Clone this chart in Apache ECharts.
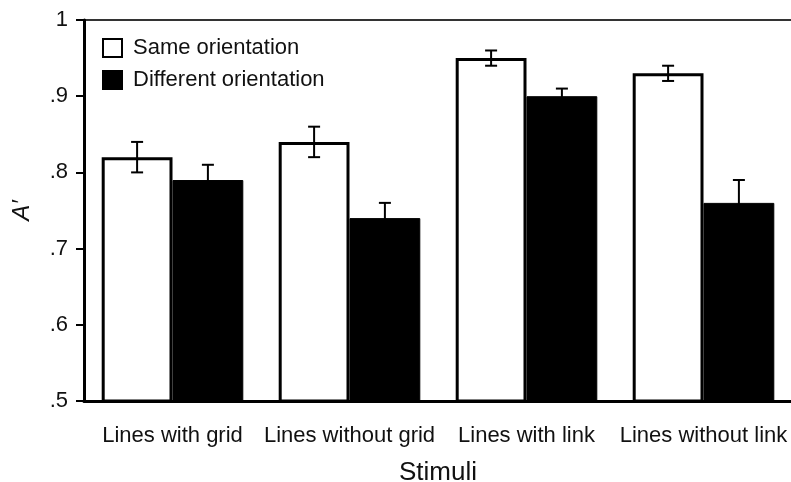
<!DOCTYPE html>
<html>
<head>
<meta charset="utf-8">
<script src="https://cdn.jsdelivr.net/npm/echarts@6/dist/echarts.min.js"></script>
<style>
  html, body { margin: 0; padding: 0; background: #fff; }
  #main { width: 791px; height: 482px; }
</style>
</head>
<body>
<div id="main"></div>
<script>
// stimuli categories and A' values
var categories = ["Lines with grid", "Lines without grid", "Lines with link", "Lines without link"];
var sameValues = [0.82, 0.84, 0.95, 0.93];
var sameErr = [0.02, 0.02, 0.01, 0.01];
var diffValues = [0.79, 0.74, 0.90, 0.76];
var diffErr = [0.02, 0.02, 0.01, 0.03];
var yTicks = [0.5, 0.6, 0.7, 0.8, 0.9, 1];

var FONT = "Liberation Sans, Arial, sans-serif";

var chart = echarts.init(document.getElementById("main"));

// error bar drawn on top of each bar, side: -1 left bar, +1 right bar
function errorBar(side) {
  return function (params, api) {
    var idx = api.value(0);
    var lo = api.coord([idx, api.value(1)]);
    var hi = api.coord([idx, api.value(2)]);
    var band = api.size([1, 0])[0];
    var x = lo[0] + side * band * 0.2;
    var cap = 6;
    var style = { stroke: "#000", lineWidth: 2 };
    return {
      type: "group",
      children: [
        { type: "line", shape: { x1: x, y1: lo[1], x2: x, y2: hi[1] }, style: style },
        { type: "line", shape: { x1: x - cap, y1: lo[1], x2: x + cap, y2: lo[1] }, style: style },
        { type: "line", shape: { x1: x - cap, y1: hi[1], x2: x + cap, y2: hi[1] }, style: style }
      ]
    };
  };
}

var sameErrData = sameValues.map(function (v, i) { return [i, v - sameErr[i], v + sameErr[i]]; });
var diffErrData = diffValues.map(function (v, i) { return [i, v - diffErr[i], v + diffErr[i]]; });

var option = {
  animation: false,
  textStyle: { fontFamily: FONT },
  grid: {
    // plot runs past the right edge, like the original figure
    left: 84, top: 20, width: 708, height: 381,
    outerBoundsMode: "none",
    containLabel: false,
    show: true, borderColor: "#333", borderWidth: 2, backgroundColor: "transparent"
  },
  legend: {
    orient: "vertical",
    left: 102, top: 37,
    padding: 0,
    itemWidth: 19, itemHeight: 18, itemGap: 10,
    icon: "rect",
    textStyle: { fontSize: 22, color: "#111", fontFamily: FONT, padding: [0, 0, 0, 6] },
    data: ["Same orientation", "Different orientation"]
  },
  xAxis: {
    type: "category",
    data: categories,
    name: "Stimuli",
    nameLocation: "middle",
    nameGap: 59,
    nameTextStyle: { fontSize: 26, color: "#111" },
    axisLine: { lineStyle: { color: "#000", width: 3 } },
    axisTick: { alignWithLabel: true, length: 8, lineStyle: { color: "#000", width: 2 } },
    axisLabel: { fontSize: 22, color: "#111", margin: 24, interval: 0 }
  },
  yAxis: {
    type: "value",
    min: 0.5, max: 1, interval: 0.1,
    name: "A\u2032",
    nameLocation: "middle",
    nameRotate: 90,
    nameGap: 50,
    nameTextStyle: { fontSize: 24, fontStyle: "italic", color: "#111" },
    splitLine: { show: false },
    axisLine: { show: true, lineStyle: { color: "#000", width: 3 } },
    axisTick: { show: true, length: 8, lineStyle: { color: "#000", width: 2 } },
    axisLabel: {
      fontSize: 22, color: "#111", margin: 16,
      formatter: function (v) {
        var r = Math.round(v * 10) / 10;
        if (yTicks.indexOf(r) < 0) return "";
        return r === 1 ? "1" : String(r).replace(/^0/, "");
      }
    }
  },
  series: [
    {
      name: "Same orientation",
      type: "bar",
      data: sameValues,
      barWidth: "40%",
      barGap: "0%",
      itemStyle: { color: "#fff", borderColor: "#000", borderWidth: 3 }
    },
    {
      name: "Different orientation",
      type: "bar",
      data: diffValues,
      barWidth: "40%",
      barGap: "0%",
      itemStyle: { color: "#000", borderColor: "#000", borderWidth: 1 }
    },
    {
      type: "custom",
      renderItem: errorBar(-1),
      data: sameErrData,
      encode: { x: 0, y: [1, 2] },
      z: 10
    },
    {
      type: "custom",
      renderItem: errorBar(1),
      data: diffErrData,
      encode: { x: 0, y: [1, 2] },
      z: 10
    }
  ]
};

chart.setOption(option);
</script>
</body>
</html>
